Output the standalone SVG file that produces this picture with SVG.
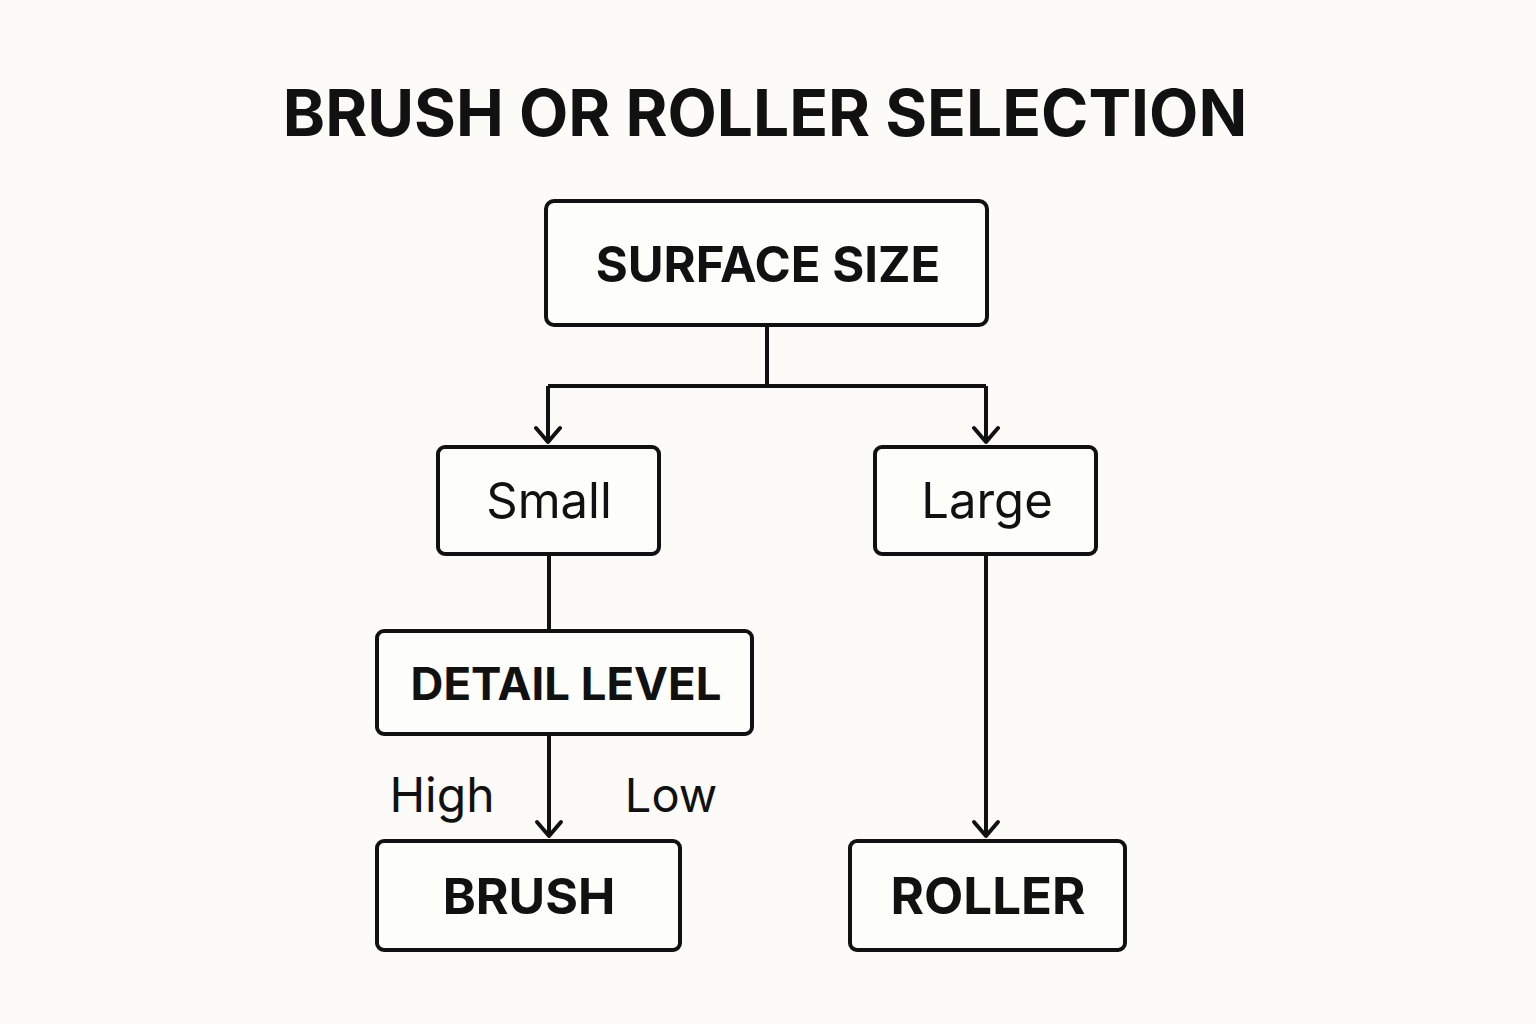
<svg xmlns="http://www.w3.org/2000/svg" width="1536" height="1024" viewBox="0 0 1536 1024">
<style>
.box{fill:#FDFDF9;stroke:#111;stroke-width:4}
.ln{fill:none;stroke:#111;stroke-width:4}
.ah{fill:none;stroke:#111;stroke-width:4;stroke-linecap:round;stroke-linejoin:round}
.t{font-family:Inter,"Liberation Sans",sans-serif;fill:#111;text-anchor:middle}
.b{font-weight:700}
</style>
<rect width="1536" height="1024" fill="#FCFBF7"/>
<text class="t b" x="765" y="136" font-size="64">BRUSH OR ROLLER SELECTION</text>
<g id="connectors">
<path class="ln" d="M767 325 V386 M548 386 H986 M548 386 V442 M986 386 V442"/>
<path class="ah" d="M536 428 L548 442 L560 428 M974 428 L986 442 L998 428"/>
<path class="ln" d="M549 554 V631"/>
<path class="ln" d="M549 734 V836"/>
<path class="ah" d="M537 822 L549 836 L561 822"/>
<path class="ln" d="M986 554 V836"/>
<path class="ah" d="M974 822 L986 836 L998 822"/>
</g>
<g id="surface-size"><rect class="box" x="546" y="201" width="441" height="124" rx="8"/><text class="t b" x="768" y="282" font-size="49">SURFACE SIZE</text></g>
<g id="small"><rect class="box" x="438" y="447" width="221" height="107" rx="7"/><text class="t" x="549" y="518" font-size="49">Small</text></g>
<g id="large"><rect class="box" x="875" y="447" width="221" height="107" rx="7"/><text class="t" x="987" y="518" font-size="49">Large</text></g>
<g id="detail-level"><rect class="box" x="377" y="631" width="375" height="103" rx="7"/><text class="t b" x="566" y="700" font-size="45.5">DETAIL LEVEL</text></g>
<g id="labels"><text class="t" x="442" y="812" font-size="48">High</text><text class="t" x="671" y="812" font-size="47">Low</text></g>
<g id="brush"><rect class="box" x="377" y="841" width="303" height="109" rx="7"/><text class="t b" x="529" y="914" font-size="50">BRUSH</text></g>
<g id="roller"><rect class="box" x="850" y="841" width="275" height="109" rx="7"/><text class="t b" x="988" y="914" font-size="51">ROLLER</text></g>
</svg>
